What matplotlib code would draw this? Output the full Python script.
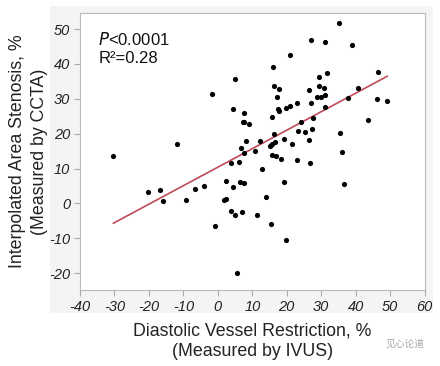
import matplotlib
matplotlib.use("Agg")
import matplotlib.pyplot as plt
from matplotlib.patches import Rectangle
import numpy as np

plt.rcParams['font.family'] = ['Liberation Sans', 'DejaVu Sans']

# Diastolic vessel restriction (%), IVUS
x_vals = [4.9, -1.8, 4.3, 7.7, 7.2, 7.6, 9.0, 8.1, -11.7, 6.8,
          35.2, 27.1, 31.2, 39.1, 21.0, 16.0, 31.6, 29.5, 46.5, 16.3,
          17.8, 26.6, 29.3, 30.7, 40.8, 17.2, 28.9, 30.0, 31.2, 37.7,
          46.3, 49.2, 22.9, 21.1, 19.7, 17.6, 17.8, 27.1, 31.0, 15.7,
          24.1, 27.6, 43.6, 16.2, 23.3, 25.3, 27.4, 35.5, 12.2, 19.3,
          26.6, 21.5, 15.1, 15.5, 15.8, 16.5,
          -30.3, -20.2, -16.7, -15.8, -9.2, -6.7, -4.0, -0.8, 2.3, 1.7,
          2.5, 4.3, 3.7, 5.1, 6.9, 5.5, 3.8, 6.2, 7.6, 10.9,
          6.3, 7.5, 11.4,
          15.6, 17.0, 18.3, 23.0, 26.7, 36.0, 12.7, 19.1, 36.6, 13.9,
          15.3, 19.8]
# Interpolated area stenosis (%), CCTA
y_vals = [35.7, 31.3, 27.1, 25.9, 23.3, 23.4, 22.8, 17.8, 17.0, 16.0,
          51.8, 46.8, 46.4, 45.3, 42.5, 39.2, 37.5, 36.2, 37.8, 33.8,
          32.7, 32.5, 33.8, 33.1, 33.2, 30.6, 30.4, 30.6, 31.0, 30.1,
          30.0, 29.5, 28.9, 27.9, 27.3, 27.2, 26.6, 28.7, 27.7, 24.7,
          23.4, 24.5, 23.9, 19.9, 20.7, 20.5, 21.3, 20.1, 17.8, 18.6,
          18.2, 17.0, 16.5, 16.8, 17.1, 17.5,
          13.7, 3.4, 3.9, 0.7, 1.0, 4.2, 4.9, -6.4, 6.4, 0.9,
          1.3, 4.7, -2.1, -3.2, -2.5, -20.0, 11.5, 11.8, 14.6, 15.1,
          6.2, 5.8, -3.3,
          13.8, 13.7, 12.8, 12.5, 11.7, 14.7, 9.8, 6.2, 5.7, 1.9,
          -5.9, -10.4]

# regression line
fit_x_range = [-30.3, 49.2]
fit_intercept = 10.4
fit_slope = 0.53

x_ticks = [-40, -30, -20, -10, 0, 10, 20, 30, 40, 50, 60]
y_ticks = [-20, -10, 0, 10, 20, 30, 40, 50]

fig = plt.figure(figsize=(4.4, 3.66), dpi=100)
W, H = 440, 366
bg = Rectangle((50 / W, 1 - 313 / H), (433 - 50) / W, (313 - 6) / H,
               transform=fig.transFigure, facecolor='#f4f4f4',
               edgecolor='none', zorder=-10)
fig.add_artist(bg)
ax = fig.add_axes([80 / W, 1 - 290 / H, (424.5 - 80) / W, (290 - 13) / H])
ax.set_facecolor('white')

ax.scatter(x_vals, y_vals, s=14, color='black', zorder=3, linewidths=0)
fx = np.array(fit_x_range)
ax.plot(fx, fit_intercept + fit_slope * fx, color='#c04a58', lw=1.2, zorder=2)

ax.set_xlim(-40, 60)
ax.set_ylim(-24.8, 54.6)
ax.set_xticks(x_ticks)
ax.set_yticks(y_ticks)
ax.set_xticklabels([str(t) for t in x_ticks], fontstyle='italic', fontsize=10.5, color='#222222')
ax.set_yticklabels([str(t) for t in y_ticks], fontstyle='italic', fontsize=10.5, color='#222222')
ax.tick_params(direction='out', length=4, width=0.8, color='#aaaaaa', pad=3)
for s in ax.spines.values():
    s.set_color('#bbbbbb')
    s.set_linewidth(0.8)

ax.set_xlabel('Diastolic Vessel Restriction, %\n(Measured by IVUS)', fontsize=12.8,
              color='#222222', labelpad=6, linespacing=1.3)
ax.set_ylabel('Interpolated Area Stenosis, %\n(Measured by CCTA)', fontsize=12.8,
              color='#222222', labelpad=1, linespacing=1.4)

ax.text(0.053, 0.905, r'$\it{P}$<0.0001', transform=ax.transAxes, fontsize=12,
        color='#111111', va='center')
ax.text(0.053, 0.835, 'R²=0.28', transform=ax.transAxes, fontsize=12,
        color='#111111', va='center')

fig.text(405 / W, 1 - 344 / H, '见心论道', fontsize=7, color='#aaaaaa',
         family=['Noto Sans CJK SC', 'DejaVu Sans'], ha='center', va='center')

fig.savefig('out.png', dpi=100)
